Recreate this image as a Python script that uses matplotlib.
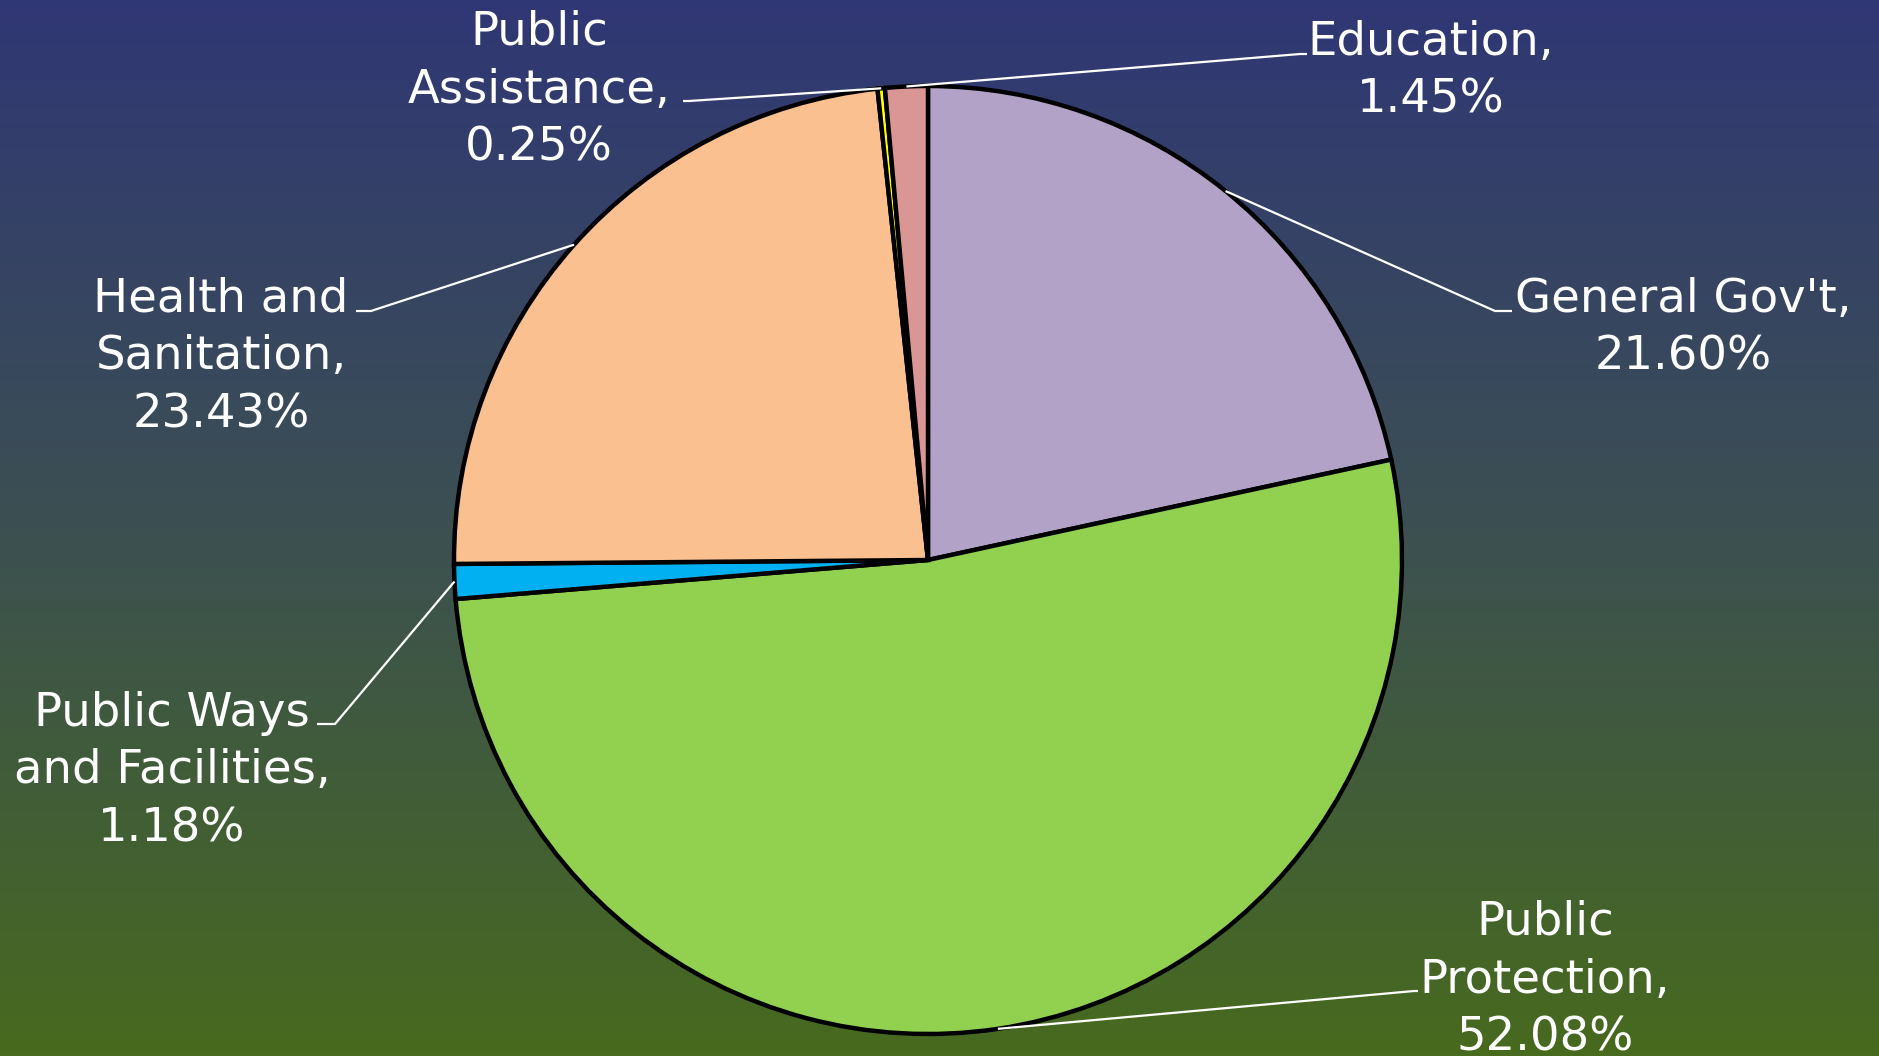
import numpy as np
import matplotlib
matplotlib.use("Agg")
import matplotlib.pyplot as plt
from matplotlib.colors import LinearSegmentedColormap

# ---- data ----
categories = ["General Gov't", "Public Protection", "Public Ways\nand Facilities",
              "Health and\nSanitation", "Public\nAssistance", "Education"]
values = [21.60, 52.08, 1.18, 23.43, 0.25, 1.45]
label_texts = ["General Gov't,\n21.60%", "Public\nProtection,\n52.08%",
               "Public Ways\nand Facilities,\n1.18%", "Health and\nSanitation,\n23.43%",
               "Public\nAssistance,\n0.25%", "Education,\n1.45%"]
colors = ["#B3A2C7", "#92D050", "#00B0F0", "#FAC090", "#FFFF00", "#D99694"]

W, H = 1879, 1056
fig = plt.figure(figsize=(W / 100, H / 100), dpi=100)

# gradient background
bg = fig.add_axes([0, 0, 1, 1])
cmap = LinearSegmentedColormap.from_list("bg", ["#476A1E", "#3C5052", "#303775"])
grad = np.linspace(0, 1, 256).reshape(-1, 1)
bg.imshow(grad, aspect="auto", cmap=cmap, origin="lower", extent=[0, 1, 0, 1])
bg.set_axis_off()

ax = fig.add_axes([0, 0, 1, 1])
ax.patch.set_alpha(0)

cx, cy, R = 928, H - 560, 474
wedges, _ = ax.pie(values, colors=colors, startangle=90, counterclock=False,
                   radius=R, center=(cx, cy), frame=True,
                   wedgeprops=dict(edgecolor="black", linewidth=3.2))
ax.set_xlim(0, W)
ax.set_ylim(0, H)
ax.set_axis_off()

# label layout (pixel coords, y from top)
text_pos = [(1683, 328), (1545, 980), (172, 771), (221, 357), (539, 90), (1431, 71)]
elbow = [(1495, 311), (1414, 991), (335, 724), (371, 311), (689, 101), (1300, 54)]
elbow_end = [(1512, 311), (1418, 991), (317, 724), (356, 311), (683, 101), (1307, 54)]

for w, lt, tp, el, ee in zip(wedges, label_texts, text_pos, elbow, elbow_end):
    ang = np.deg2rad((w.theta1 + w.theta2) / 2)
    ex, ey = cx + R * np.cos(ang), cy + R * np.sin(ang)
    ax.plot([ex, el[0], ee[0]], [ey, H - el[1], H - ee[1]], color="white", lw=1.6,
            solid_capstyle="butt", zorder=5)
    ax.text(tp[0], H - tp[1], lt, color="white", fontsize=33.5, ha="center", va="center",
            multialignment="center", linespacing=1.36, family="DejaVu Sans", zorder=6)

fig.savefig("out.png", dpi=100)
